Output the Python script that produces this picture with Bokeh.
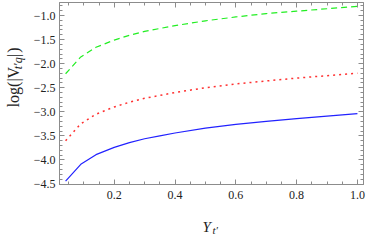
import math
from bokeh.plotting import figure
from bokeh.models import LinearAxis, SingleIntervalTicker, CustomJSTickFormatter, Label, Range1d
from bokeh.layouts import row, column
from bokeh.embed import file_html
from bokeh.resources import INLINE

# Data
x_vals = [0.04, 0.09, 0.14, 0.2, 0.25, 0.3, 0.35, 0.4, 0.5, 0.6, 0.7, 0.8, 0.9, 1.0]
green_vals = [-2.21, -1.86, -1.66, -1.51, -1.41, -1.33, -1.27, -1.21, -1.11, -1.03, -0.96, -0.91, -0.86, -0.81]
red_vals = [-3.60, -3.25, -3.05, -2.90, -2.80, -2.72, -2.66, -2.60, -2.50, -2.42, -2.36, -2.30, -2.25, -2.20]
blue_vals = [-4.44, -4.09, -3.89, -3.74, -3.64, -3.56, -3.50, -3.44, -3.34, -3.26, -3.20, -3.14, -3.09, -3.04]

FRAME = "#8c8c8c"
FONT = "Liberation Serif"
TXT = "#222222"

# ---- main plot ----
p = figure(width=336, height=210, output_backend="svg", toolbar_location=None,
           x_range=Range1d(0.02, 1.02), y_range=Range1d(-4.51, -0.73),
           min_border_left=26, min_border_right=3, min_border_top=2, min_border_bottom=26,
           x_axis_location=None, y_axis_location=None)
p.grid.visible = False
p.outline_line_color = FRAME
p.background_fill_color = "white"
p.border_fill_color = "white"

fmt = CustomJSTickFormatter(code="return tick.toFixed(1).replace('-', '\u2212');")
blank = CustomJSTickFormatter(code="return '';")

def make_axis(kind, show_labels, standoff):
    if kind == "x":
        t = SingleIntervalTicker(interval=0.2, num_minor_ticks=4)
    else:
        t = SingleIntervalTicker(interval=0.5, num_minor_ticks=5)
    ax = LinearAxis(ticker=t, formatter=fmt if show_labels else blank)
    ax.axis_line_color = FRAME
    ax.major_tick_line_color = FRAME
    ax.minor_tick_line_color = FRAME
    ax.major_tick_in = 5
    ax.major_tick_out = 0
    ax.minor_tick_in = 3
    ax.minor_tick_out = 0
    ax.major_label_text_font = FONT
    ax.major_label_text_font_size = "12px" if show_labels else "1px"
    ax.major_label_text_color = TXT
    ax.major_label_standoff = standoff
    return ax

p.add_layout(make_axis("x", True, 6), "below")
p.add_layout(make_axis("y", True, 4), "left")
p.add_layout(make_axis("x", False, 0), "above")
p.add_layout(make_axis("y", False, 0), "right")

p.line(x_vals, green_vals, line_color="#22ee22", line_width=1.2, line_dash="6 4")
p.line(x_vals, red_vals, line_color="#ff3030", line_width=1.5, line_dash="2 4")
p.line(x_vals, blue_vals, line_color="#2222ff", line_width=1.2)

def label_fig(w, h):
    f = figure(width=w, height=h, output_backend="svg", toolbar_location=None,
               x_range=Range1d(0, w), y_range=Range1d(0, h),
               min_border=0, x_axis_location=None, y_axis_location=None)
    f.grid.visible = False
    f.outline_line_color = None
    f.background_fill_color = "white"
    f.border_fill_color = "white"
    return f

# ---- y-axis title: log(|V_{t'q}|) ----
yl = label_fig(30, 210)
yl.add_layout(Label(x=13, y=89, text="log(|V", angle=math.pi / 2,
                    text_font=FONT, text_font_size="16px", text_color=TXT,
                    text_baseline="alphabetic", text_align="left"))
yl.add_layout(Label(x=17, y=133, text="t\u2032q", angle=math.pi / 2,
                    text_font=FONT, text_font_style="italic", text_font_size="12px",
                    text_color=TXT, text_baseline="alphabetic", text_align="left"))
yl.add_layout(Label(x=13, y=147, text="|", angle=math.pi / 2,
                    text_font=FONT, text_font_size="16px", text_color=TXT,
                    text_baseline="alphabetic", text_align="left"))
yl.add_layout(Label(x=13, y=152, text=")", angle=math.pi / 2,
                    text_font=FONT, text_font_size="16px", text_color=TXT,
                    text_baseline="alphabetic", text_align="left"))

# ---- x-axis title: Y_{t'} ----
xl = label_fig(366, 26)
xl.add_layout(Label(x=202, y=10, text="Y", text_font=FONT, text_font_style="italic",
                    text_font_size="15px", text_color=TXT,
                    text_baseline="alphabetic", text_align="left"))
xl.add_layout(Label(x=212, y=7, text="t\u2032", text_font=FONT, text_font_style="italic",
                    text_font_size="11px", text_color=TXT,
                    text_baseline="alphabetic", text_align="left"))

layout = column(row(yl, p), xl)
open("out.html", "w").write(file_html(layout, INLINE))
